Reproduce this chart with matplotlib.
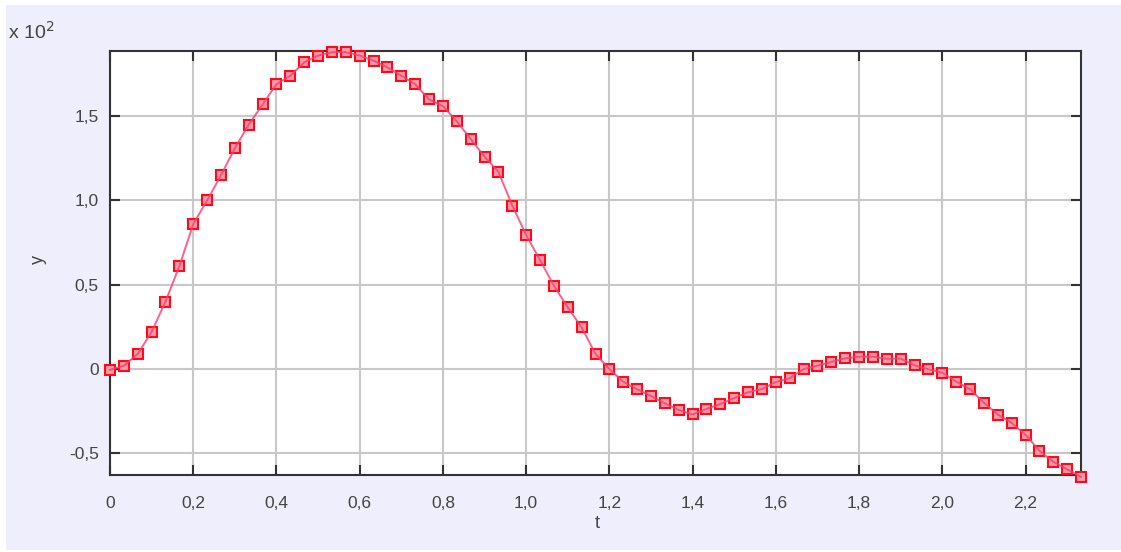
import matplotlib
matplotlib.use("Agg")
import matplotlib.pyplot as plt
from matplotlib.patches import Rectangle
from matplotlib.ticker import FuncFormatter

# data
n_points = 71
t_step = 1.0 / 30.0
t = [i * t_step for i in range(n_points)]
y = [-0.5, 2, 9, 22, 40, 61, 86, 100, 115, 131,
     145, 157, 169, 174, 182, 186, 188, 188, 186, 183,
     179, 174, 169, 160, 156, 147, 136.5, 126, 117, 97,
     79.5, 64.7, 49.4, 36.6, 24.7, 8.9, 0, -7.5, -12, -16,
     -20.4, -24.3, -26.9, -23.7, -20.8, -17.2, -13.8, -11.9, -7.7, -5.5,
     0, 2, 4.2, 6.3, 7.3, 7.3, 6.1, 6.2, 2.2, -0.2,
     -2.2, -7.5, -12, -20, -27, -32, -39, -48.5, -55, -59.5,
     -64]
x_ticks = [0, 0.2, 0.4, 0.6, 0.8, 1.0, 1.2, 1.4, 1.6, 1.8, 2.0, 2.2]
y_ticks = [-50, 0, 50, 100, 150]

W, H = 1121, 552
fig = plt.figure(figsize=(W / 100, H / 100), dpi=100, facecolor="white")
fig.patches.append(Rectangle((6 / W, 2 / H), (W - 6) / W, (550 - 5) / H,
                             transform=fig.transFigure, facecolor="#eeeefc",
                             edgecolor="none", zorder=-10))

ax = fig.add_axes([110 / W, 1 - 475 / H, (1081 - 110) / W, (475 - 51) / H])
ax.set_facecolor("white")

ax.plot(t, y, ls="none", marker="s", ms=7.5, mew=1.5,
        mec="#ff0a1a", mfc="#ff9aa8", zorder=3, clip_on=False)
ax.plot(t, y, color="#ff3a6a", lw=1.4, zorder=4, clip_on=False, alpha=0.8)

ax.set_xlim(0, 2.3333)
ax.set_ylim(-62.9, 188.7)
ax.set_xticks(x_ticks)
ax.set_yticks(y_ticks)

fmt_x = FuncFormatter(lambda v, p: "0" if abs(v) < 1e-9 else f"{v:.1f}".replace(".", ","))
fmt_y = FuncFormatter(lambda v, p: "0" if abs(v) < 1e-9 else f"{v / 100:.1f}".replace(".", ","))
ax.xaxis.set_major_formatter(fmt_x)
ax.yaxis.set_major_formatter(fmt_y)

ax.grid(True, color="#c8c8c8", lw=1.5, zorder=0)
ax.set_axisbelow(True)
for s in ax.spines.values():
    s.set_color("#333333")
    s.set_linewidth(1.5)

ax.tick_params(axis="both", direction="in", length=7, width=1.5, color="#333333",
               top=True, right=True, labelcolor="#444444", labelsize=12.5)
ax.tick_params(axis="x", pad=15)
ax.tick_params(axis="y", pad=8)
for lab in ax.get_xticklabels() + ax.get_yticklabels():
    lab.set_family("Liberation Sans")

fig.text(597 / W, 1 - 524 / H, "t", ha="center", va="center",
         fontsize=13, color="#444444", family="Liberation Sans")
fig.text(38 / W, 1 - 260 / H, "y", ha="center", va="center", rotation=90,
         fontsize=13, color="#444444", family="Liberation Sans")
fig.text(8 / W, 1 - 32 / H, r"x 10$^{2}$", ha="left", va="center",
         fontsize=14, color="#444444", family="Liberation Sans")

fig.savefig("out.png", dpi=100, facecolor=fig.get_facecolor())
